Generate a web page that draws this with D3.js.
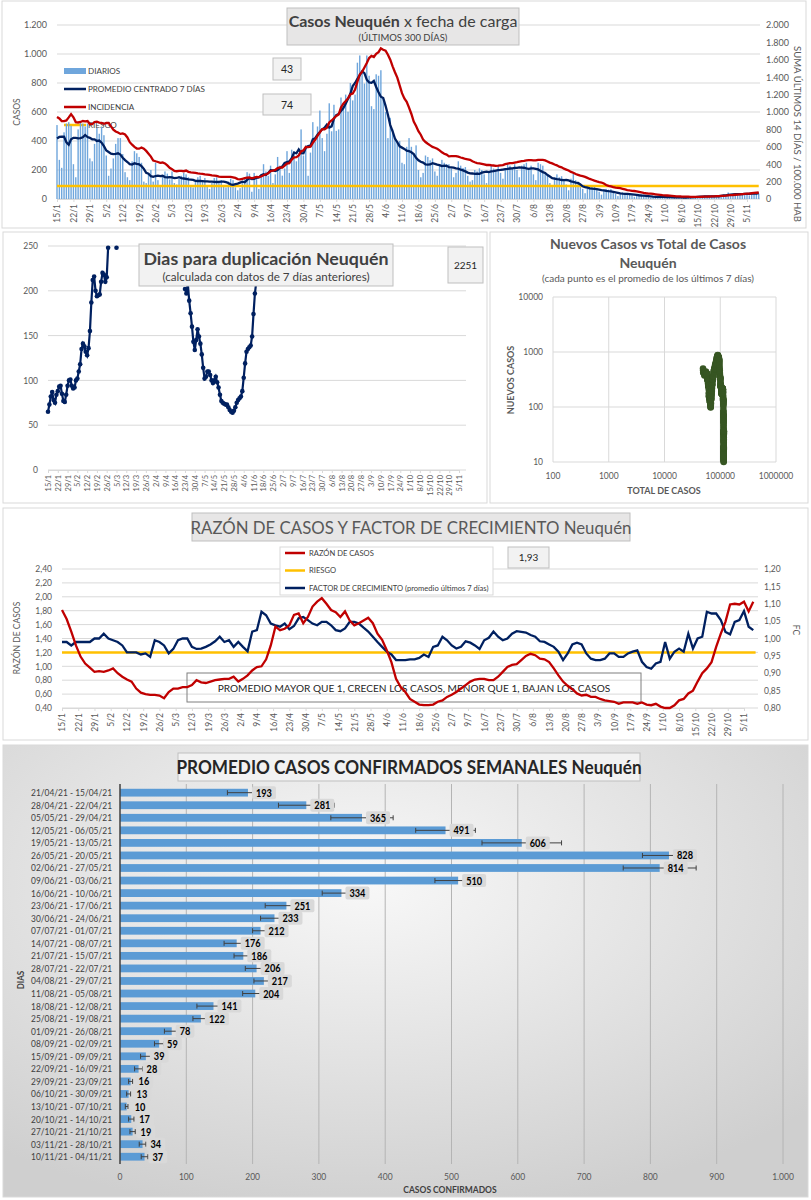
<!DOCTYPE html>
<html>
<head>
<meta charset="utf-8">
<title>Casos Neuquén</title>
<script src="https://cdnjs.cloudflare.com/ajax/libs/d3/7.8.5/d3.min.js"></script>
<style>
  body { margin: 0; background: #fff; }
  text { font-family: Lato, "Open Sans", sans-serif; }
</style>
</head>
<body>
<script>
// ---- datos ----
const inicio = new Date(2021, 0, 15);          // 15/1, primer día de los últimos 300
const poblacion = 664000;
const riesgoIncidencia = 150;
const riesgoRazon = 1.2;
const totalInicial = 48600;                    // casos acumulados al 14/1

// 13 días previos al 15/1 (entran en la suma de 14 días y el promedio)
const casosPrevios = [380, 420, 460, 470, 300, 250, 480, 520, 510, 490, 450, 520, 500];

// casos diarios x fecha de carga, 15/1 ... 10/11
const casosDiarios = [
  510, 270, 215, 460, 520, 530, 505,
  240, 150, 480, 530, 520, 500, 520,
  280, 260, 380, 490, 450, 500, 440,
  300, 160, 210, 280, 380, 420, 420,
  310, 185, 150, 130, 260, 330, 315,
  290, 250, 120, 110, 170, 200, 120,
  250, 130, 90, 150, 190, 175, 135,
  190, 110, 100, 140, 160, 180, 170,
  150, 90, 80, 120, 150, 160, 125,
  145, 95, 70, 110, 145, 150, 125,
  130, 90, 80, 120, 140, 130, 80,
  60, 75, 110, 150, 185, 175, 50,
  180, 150, 70, 160, 240, 190,
  160, 230, 110, 170, 290, 230, 161,
  210, 330, 180, 340, 330, 260, 317,
  480, 300, 370, 160, 320, 530, 395,
  500, 610, 420, 330, 450, 660, 467,
  650, 470, 480, 700, 620, 720, 602,
  800, 680, 720, 940, 990, 870, 796,
  990, 850, 640, 620, 860, 850, 888,
  700, 600, 420, 560, 480, 420, 390,
  400, 250, 240, 360, 420, 360, 308,
  370, 200, 150, 180, 300, 290, 267,
  280, 190, 160, 240, 270, 250, 241,
  240, 210, 150, 180, 260, 230, 214,
  220, 160, 120, 130, 200, 190, 212,
  200, 170, 110, 190, 230, 210, 192,
  230, 180, 140, 210, 240, 230, 212,
  240, 200, 150, 230, 240, 250, 209,
  230, 170, 130, 250, 240, 230, 178,
  160, 110, 90, 150, 170, 150, 157,
  130, 100, 60, 140, 180, 130, 114,
  100, 70, 40, 70, 90, 90, 86,
  70, 50, 30, 60, 70, 65, 68,
  50, 35, 20, 40, 45, 42, 41,
  35, 25, 15, 30, 32, 30, 29,
  20, 14, 8, 18, 18, 17, 17,
  15, 12, 8, 14, 16, 13, 13,
  12, 8, 6, 11, 12, 11, 10,
  18, 15, 10, 18, 22, 19, 17,
  22, 16, 12, 20, 24, 21, 18,
  45, 30, 22, 35, 38, 36, 32,
  40, 32, 25, 42, 45, 38, 37
];

// días para duplicación (tramos visibles, arriba de 250 no se ve)
const dupInicio = [0, 49, 98];
const dupTramos = [
  [65, 73, 82, 87, 78, 75, 84, 88, 93, 94, 85, 77, 76, 84, 94, 100, 101, 94, 91, 92, 100,
   102, 110, 118, 135, 141, 138, 132, 128, 136, 155, 187, 212, 216, 200, 194, 195, 196,
   210, 220, 218, 210, 215, 248],
  [248],
  [202, 197, 208, 189, 175, 160, 143, 134, 145, 157, 149, 141, 129, 114, 102, 104, 110,
   110, 106, 100, 97, 100, 104, 98, 92, 84, 77, 75, 74, 73, 73, 70, 67, 65, 64, 66, 70,
   75, 78, 80, 82, 88, 103, 119, 132, 135, 137, 139, 149, 174, 197, 210]
];

// razón de casos y factor de crecimiento, un valor cada 2 días desde 15/1
const razonCasos = [
  1.81, 1.68, 1.50, 1.30, 1.14, 1.04, 0.98, 0.92, 0.93, 0.92, 0.94, 0.97, 0.90, 0.85, 0.81,
  0.78, 0.68, 0.62, 0.60, 0.59, 0.59, 0.58, 0.54, 0.63, 0.68, 0.68, 0.70, 0.70, 0.73, 0.80,
  0.77, 0.76, 0.78, 0.80, 0.81, 0.82, 0.82, 0.85, 0.78, 0.82, 0.87, 0.94, 0.99, 1.00, 1.10,
  1.30, 1.57, 1.52, 1.54, 1.59, 1.74, 1.76, 1.62, 1.71, 1.86, 1.93, 1.98, 1.90, 1.81, 1.78,
  1.71, 1.79, 1.66, 1.59, 1.62, 1.66, 1.70, 1.62, 1.47, 1.38, 1.23, 1.06, 0.82, 0.70,
  0.63, 0.53, 0.49, 0.45, 0.44, 0.44, 0.45, 0.49, 0.51, 0.56, 0.59, 0.63, 0.68, 0.73, 0.78,
  0.81, 0.82, 0.82, 0.80, 0.80, 0.85, 0.92, 0.99, 1.02, 1.03, 1.09, 1.15, 1.18, 1.16, 1.11,
  1.10, 1.06, 0.97, 0.87, 0.78, 0.72, 0.67, 0.61, 0.58, 0.59, 0.56, 0.56, 0.53, 0.51, 0.50,
  0.49, 0.46, 0.48, 0.48, 0.48, 0.46, 0.48, 0.45, 0.44, 0.46, 0.42, 0.40, 0.40, 0.44, 0.51,
  0.53, 0.61, 0.65, 0.78, 0.90, 0.97, 1.06, 1.28, 1.47, 1.64, 1.89, 1.90, 1.89, 1.93, 1.79, 1.93
];
const factorCrec = [
  0.990, 0.990, 0.980, 0.990, 0.990, 0.990, 0.990, 1.000, 1.000, 1.014, 1.000, 0.995, 0.990,
  0.980, 0.960, 0.960, 0.960, 0.954, 0.957, 0.947, 0.995, 0.990, 0.980, 0.957, 0.970, 0.995,
  1.000, 1.000, 0.976, 0.970, 0.971, 0.976, 0.983, 0.992, 1.005, 0.990, 0.995, 0.976, 0.990,
  0.976, 0.963, 1.020, 1.024, 1.077, 1.067, 1.043, 1.038, 1.034, 1.043, 1.027, 1.036, 1.058,
  1.062, 1.053, 1.043, 1.038, 1.048, 1.048, 1.038, 1.024, 1.021, 1.029, 1.048, 1.048, 1.043,
  1.031, 1.020, 1.005, 0.990, 0.976, 0.962, 0.954, 0.938, 0.938,
  0.938, 0.940, 0.940, 0.944, 0.954, 0.947, 0.976, 0.980, 1.005, 0.995, 0.980, 0.971, 0.976,
  0.992, 0.988, 0.980, 0.970, 0.995, 1.002, 1.020, 1.005, 0.995, 1.000, 1.014, 1.021, 1.019,
  1.017, 1.010, 1.005, 0.992, 0.990, 0.983, 0.976, 0.962, 0.938, 0.957, 0.983, 0.988, 0.983,
  0.957, 0.942, 0.938, 0.938, 0.942, 0.957, 0.957, 0.947, 0.947, 0.957, 0.962, 0.966, 0.933,
  0.918, 0.913, 0.928, 0.933, 0.990, 0.942, 0.962, 0.971, 0.962, 1.014, 0.971, 1.000, 1.005,
  1.077, 1.072, 1.072, 1.053, 1.019, 1.012, 1.048, 1.053, 1.079, 1.034, 1.024
];

// promedio semanal de confirmados
const semanas = [
  "21/04/21 - 15/04/21", "28/04/21 - 22/04/21", "05/05/21 - 29/04/21", "12/05/21 - 06/05/21",
  "19/05/21 - 13/05/21", "26/05/21 - 20/05/21", "02/06/21 - 27/05/21", "09/06/21 - 03/06/21",
  "16/06/21 - 10/06/21", "23/06/21 - 17/06/21", "30/06/21 - 24/06/21", "07/07/21 - 01/07/21",
  "14/07/21 - 08/07/21", "21/07/21 - 15/07/21", "28/07/21 - 22/07/21", "04/08/21 - 29/07/21",
  "11/08/21 - 05/08/21", "18/08/21 - 12/08/21", "25/08/21 - 19/08/21", "01/09/21 - 26/08/21",
  "08/09/21 - 02/09/21", "15/09/21 - 09/09/21", "22/09/21 - 16/09/21", "29/09/21 - 23/09/21",
  "06/10/21 - 30/09/21", "13/10/21 - 07/10/21", "20/10/21 - 14/10/21", "27/10/21 - 21/10/21",
  "03/11/21 - 28/10/21", "10/11/21 - 04/11/21"
];
const promSemanal = [193, 281, 365, 491, 606, 828, 814, 510, 334, 251, 233, 212, 176, 186, 206,
  217, 204, 141, 122, 78, 59, 39, 28, 16, 13, 10, 17, 19, 34, 37];
const errorSemanal = [31, 42, 47, 45, 60, 40, 55, 35, 29, 32, 21, 12, 19, 14, 17,
  15, 19, 25, 12, 11, 7, 8, 6, 3, 3, 2, 4, 4, 5, 5];

// ---- derivados ----
const np = casosPrevios.length;
const todos = casosPrevios.concat(casosDiarios);
const n = casosDiarios.length;
const promCentrado = casosDiarios.map((v, i) => d3.mean(todos.slice(np + i - 3, Math.min(np + i + 4, todos.length))));
const promUltimos7 = casosDiarios.map((v, i) => d3.mean(todos.slice(np + i - 6, np + i + 1)));
const incidencia = casosDiarios.map((v, i) => d3.sum(todos.slice(np + i - 13, np + i + 1)) / poblacion * 100000);
const acumulado = Array.from(d3.cumsum(casosDiarios), v => v + totalInicial);

const es = d3.formatLocale({ decimal: ",", thousands: ".", grouping: [3], currency: ["$", ""] });
const fmtMiles = es.format(",");
const fmt2 = es.format(".2f");
const fmtFecha = d3.timeFormat("%-d/%-m");
const diasTicks = d3.range(0, 295, 7);
const etiquetasFechas = diasTicks.map(d => fmtFecha(d3.timeDay.offset(inicio, d)));

const AZUL = "#002060", ROJO = "#c00000", AMARILLO = "#ffc000", GRIS = "#595959", GRILLA = "#d9d9d9";

const svg = d3.select("body").append("svg").attr("width", 811).attr("height", 1200);
svg.append("rect").attr("width", 811).attr("height", 1200).attr("fill", "#fff");

function caja(g, x, y, w, h, fill, stroke) {
  return g.append("rect").attr("x", x).attr("y", y).attr("width", w).attr("height", h)
    .attr("fill", fill || "#f2f2f2").attr("stroke", stroke || "#bfbfbf");
}
function texto(g, x, y, t, size, opts = {}) {
  return g.append("text").attr("x", x).attr("y", y).text(t)
    .attr("font-size", size).attr("fill", opts.fill || GRIS)
    .attr("text-anchor", opts.anchor || "middle")
    .attr("font-weight", opts.bold ? "bold" : null);
}
// texto angosto (la fuente original es condensada)
function angosto(g, x, y, t, size, opts = {}) {
  return g.append("text").attr("transform", `translate(${x},${y}) scale(${opts.sx || 0.85},1)`)
    .text(t).attr("font-size", size).attr("fill", opts.fill || GRIS)
    .attr("text-anchor", opts.anchor || "middle")
    .attr("font-weight", opts.bold ? "bold" : null);
}
function ejeFechas(g, x, y0, size) {
  g.append("g").attr("transform", `translate(0,${y0})`)
    .call(d3.axisBottom(x).tickValues(diasTicks).tickFormat((d, i) => etiquetasFechas[i]).tickSize(3))
    .attr("font-family", null)
    .call(a => a.select(".domain").attr("stroke", GRILLA))
    .call(a => a.selectAll(".tick line").attr("stroke", GRILLA))
    .call(a => a.selectAll("text").attr("transform", "rotate(-90)").attr("text-anchor", "end")
      .attr("x", -5).attr("y", 0).attr("dy", "0.35em").attr("fill", GRIS).attr("font-size", size));
}
function ejeY(g, scale, xPos, vals, fmt, left, size) {
  g.append("g").attr("transform", `translate(${xPos},0)`)
    .call((left ? d3.axisLeft(scale) : d3.axisRight(scale)).tickValues(vals).tickFormat(fmt).tickSize(0).tickPadding(left ? 10 : 6))
    .attr("font-family", null)
    .call(a => a.select(".domain").remove())
    .call(a => a.selectAll("text").attr("fill", GRIS).attr("font-size", size));
}

// marcos
[[2, 1, 804, 227], [3, 232, 484, 271], [490, 232, 318, 271], [3, 508, 805, 232]].forEach(m =>
  svg.append("rect").attr("x", m[0]).attr("y", m[1]).attr("width", m[2]).attr("height", m[3])
    .attr("fill", "#fff").attr("stroke", GRILLA));

// ===================== 1. Casos x fecha de carga =====================
const g1 = svg.append("g");
const x1 = d3.scaleLinear().domain([0, 294]).range([57, 747]);
const y1 = d3.scaleLinear().domain([0, 1200]).range([199, 25]);
const y1r = d3.scaleLinear().domain([0, 2000]).range([199, 25]);

g1.append("g").selectAll("line").data(d3.range(200, 1201, 200)).join("line")
  .attr("x1", 57).attr("x2", 760).attr("y1", d => y1(d)).attr("y2", d => y1(d)).attr("stroke", GRILLA);
ejeY(g1, y1, 57, d3.range(0, 1201, 200), fmtMiles, true, 9);
ejeY(g1, y1r, 760, d3.range(0, 2001, 200), fmtMiles, false, 9);
ejeFechas(g1, x1, 199, 8.5);
g1.append("line").attr("x1", 57).attr("x2", 760).attr("y1", 199).attr("y2", 199).attr("stroke", GRILLA);

texto(g1, 0, 0, "CASOS", 8.5).attr("transform", "translate(20,112) rotate(-90)");
texto(g1, 0, 0, "SUMA  ÚLTIMOS 14 DÍAS / 100.000 HAB", 9.6).attr("transform", "translate(794,134) rotate(90)");

// leyenda (queda debajo de las series)
const ley1 = [
  { t: "DIARIOS", c: "#6fa6dc", barra: true },
  { t: "PROMEDIO CENTRADO 7 DÍAS", c: AZUL },
  { t: "INCIDENCIA", c: ROJO },
  { t: "RIESGO", c: AMARILLO }
];
ley1.forEach((l, i) => {
  const yy = 71 + i * 18;
  if (l.barra) g1.append("rect").attr("x", 64).attr("y", yy - 3).attr("width", 22).attr("height", 6).attr("fill", l.c);
  else g1.append("line").attr("x1", 64).attr("x2", 86).attr("y1", yy).attr("y2", yy).attr("stroke", l.c).attr("stroke-width", 2.5);
  texto(g1, 88, yy + 3, l.t, 8.1, { anchor: "start", fill: "#404040" });
});

g1.append("g").selectAll("rect").data(casosDiarios).join("rect")
  .attr("x", (d, i) => x1(i) - 0.7).attr("width", 1.4)
  .attr("y", d => y1(d)).attr("height", d => 199 - y1(d)).attr("fill", "#6fa6dc");

g1.append("line").attr("x1", x1(0)).attr("x2", x1(n - 1))
  .attr("y1", y1r(riesgoIncidencia)).attr("y2", y1r(riesgoIncidencia))
  .attr("stroke", AMARILLO).attr("stroke-width", 2.5);
g1.append("path").datum(promCentrado).attr("fill", "none").attr("stroke", AZUL).attr("stroke-width", 2.3)
  .attr("d", d3.line().x((d, i) => x1(i)).y(d => y1(d)));
g1.append("path").datum(incidencia).attr("fill", "none").attr("stroke", ROJO).attr("stroke-width", 2.3)
  .attr("d", d3.line().x((d, i) => x1(i)).y(d => y1r(d)));

caja(g1, 287, 8, 232, 37, "#e7e6e6");
const t1 = texto(g1, 403, 27, "", 16, { fill: "#404040" });
t1.append("tspan").attr("font-weight", "bold").text("Casos  Neuquén");
t1.append("tspan").text("  x  fecha  de  carga");
texto(g1, 403, 41, "(ÚLTIMOS 300 DÍAS)", 9.5, { fill: "#404040" });
caja(g1, 273, 58, 28, 22);
texto(g1, 287, 73, "43", 10.5, { fill: "#262626" });
caja(g1, 263, 94, 48, 21);
texto(g1, 287, 109, "74", 10.5, { fill: "#262626" });

// ===================== 2. Días para duplicación =====================
const g2 = svg.append("g");
const x2 = d3.scaleLinear().domain([0, 294]).range([48, 459]);
const y2 = d3.scaleLinear().domain([0, 250]).range([470, 246]);
g2.append("g").selectAll("line").data(d3.range(50, 251, 50)).join("line")
  .attr("x1", 48).attr("x2", 466).attr("y1", d => y2(d)).attr("y2", d => y2(d)).attr("stroke", GRILLA);
ejeY(g2, y2, 48, d3.range(0, 251, 50), d => d, true, 8.5);
ejeFechas(g2, x2, 470, 7.5);
g2.append("line").attr("x1", 48).attr("x2", 466).attr("y1", 470).attr("y2", 470).attr("stroke", GRILLA);

dupTramos.forEach((tramo, k) => {
  const pts = tramo.map((v, i) => [dupInicio[k] + i, v]);
  g2.append("path").datum(pts).attr("fill", "none").attr("stroke", AZUL).attr("stroke-width", 2.2)
    .attr("d", d3.line().x(d => x2(d[0])).y(d => y2(d[1])));
  g2.append("g").selectAll("circle").data(pts).join("circle")
    .attr("cx", d => x2(d[0])).attr("cy", d => y2(d[1])).attr("r", 2.3).attr("fill", AZUL);
});

caja(g2, 139, 244, 254, 42);
texto(g2, 266, 265, "Dias para duplicación Neuquén", 17.8, { bold: true, fill: "#404040" });
texto(g2, 266, 281, "(calculada con datos de 7 días anteriores)", 11.6, { fill: "#404040" });
caja(g2, 448, 247, 35, 36);
texto(g2, 465.5, 269, "2251", 10, { fill: "#262626" });

// ===================== 3. Nuevos vs total =====================
const g3 = svg.append("g");
const x3 = d3.scaleLog().domain([100, 1e6]).range([553, 776]);
const y3 = d3.scaleLog().domain([10, 1e4]).range([462, 297]);
const decX = [100, 1000, 10000, 100000, 1000000], decY = [10, 100, 1000, 10000];
g3.append("g").selectAll("line").data(decX).join("line")
  .attr("x1", d => x3(d)).attr("x2", d => x3(d)).attr("y1", 297).attr("y2", 462).attr("stroke", GRILLA);
g3.append("g").selectAll("line").data(decY).join("line")
  .attr("x1", 553).attr("x2", 776).attr("y1", d => y3(d)).attr("y2", d => y3(d)).attr("stroke", GRILLA);
g3.append("g").selectAll("text").data(decX).join("text")
  .attr("x", d => x3(d)).attr("y", 479).attr("text-anchor", "middle").attr("font-size", 8.5).attr("fill", GRIS).text(d => d);
g3.append("g").selectAll("text").data(decY).join("text")
  .attr("x", 543).attr("y", d => y3(d) + 3).attr("text-anchor", "end").attr("font-size", 8.5).attr("fill", GRIS).text(d => d);
svg.append("clipPath").attr("id", "clip3").append("rect").attr("x", 545).attr("y", 290).attr("width", 240).attr("height", 176);
g3.append("g").attr("clip-path", "url(#clip3)").selectAll("circle")
  .data(acumulado.map((t, i) => [t, promUltimos7[i]])).join("circle")
  .attr("cx", d => x3(d[0])).attr("cy", d => y3(Math.max(d[1], 9))).attr("r", 3.3).attr("fill", "#375623");
texto(g3, 648, 249, "Nuevos Casos vs Total de Casos", 14, { bold: true });
texto(g3, 648, 268, "Neuquén", 14, { bold: true });
texto(g3, 648, 282, "(cada punto es el promedio de los últimos 7 días)", 10, {});
texto(g3, 664, 494, "TOTAL DE CASOS", 9, { bold: true });
texto(g3, 0, 0, "NUEVOS CASOS", 9, { bold: true }).attr("transform", "translate(514,380) rotate(-90)");

// ===================== 4. Razón de casos y FC =====================
const g4 = svg.append("g");
const x4 = d3.scaleLinear().domain([0, 294]).range([62, 744]);
const y4 = d3.scaleLinear().domain([0.4, 2.4]).range([708, 569]);
const y4r = d3.scaleLinear().domain([0.8, 1.2]).range([708, 569]);
const ticksRazon = d3.range(0, 11).map(k => 0.4 + k * 0.2);
const ticksFC = d3.range(0, 9).map(k => 0.8 + k * 0.05);
g4.append("g").selectAll("line").data(ticksRazon).join("line")
  .attr("x1", 62).attr("x2", 758).attr("y1", d => y4(d)).attr("y2", d => y4(d)).attr("stroke", GRILLA);
ejeY(g4, y4, 62, ticksRazon, fmt2, true, 8.5);
ejeY(g4, y4r, 758, ticksFC, fmt2, false, 8.5);
ejeFechas(g4, x4, 708, 8.5);
texto(g4, 0, 0, "RAZÓN DE CASOS", 8.5).attr("transform", "translate(20,638) rotate(-90)");
texto(g4, 0, 0, "FC", 8.5).attr("transform", "translate(793,630) rotate(90)");

g4.append("rect").attr("x", 187).attr("y", 673).attr("width", 454).attr("height", 29)
  .attr("fill", "none").attr("stroke", "#7f7f7f");
texto(g4, 414, 692, "PROMEDIO MAYOR QUE 1, CRECEN LOS CASOS, MENOR QUE 1, BAJAN LOS CASOS", 10.1, { fill: "#262626" });

g4.append("line").attr("x1", x4(0)).attr("x2", x4(n - 1)).attr("y1", y4(riesgoRazon)).attr("y2", y4(riesgoRazon))
  .attr("stroke", AMARILLO).attr("stroke-width", 2.5);
g4.append("path").datum(factorCrec).attr("fill", "none").attr("stroke", AZUL).attr("stroke-width", 2.3)
  .attr("d", d3.line().x((d, i) => x4(i * 2)).y(d => y4r(d)));
g4.append("path").datum(razonCasos).attr("fill", "none").attr("stroke", ROJO).attr("stroke-width", 2.3)
  .attr("d", d3.line().x((d, i) => x4(i * 2)).y(d => y4(d)));

caja(g4, 192, 513, 438, 28, "#e7e6e6");
texto(g4, 411, 534, "RAZÓN DE CASOS Y FACTOR DE CRECIMIENTO Neuquén", 16.8, { fill: GRIS });
caja(g4, 280, 547, 213, 48, "#fff", GRILLA);
[["RAZÓN DE CASOS", ROJO], ["RIESGO", AMARILLO], ["FACTOR DE CRECIMIENTO (promedio últimos 7 días)", AZUL]].forEach((l, i) => {
  const yy = 553 + i * 17.5;
  g4.append("line").attr("x1", 285).attr("x2", 305).attr("y1", yy).attr("y2", yy).attr("stroke", l[1]).attr("stroke-width", 2.5);
  texto(g4, 309, yy + 2.5, l[0], 7.6, { anchor: "start", fill: "#404040" });
});
caja(g4, 508, 547, 41, 21);
texto(g4, 528.5, 561, "1,93", 10, { fill: "#262626" });

// ===================== 5. Promedio semanal =====================
const g5 = svg.append("g");
const grad = svg.append("defs").append("radialGradient").attr("id", "fondo5")
  .attr("cx", "45%").attr("cy", "30%").attr("r", "75%");
grad.append("stop").attr("offset", "0%").attr("stop-color", "#f8f8f8");
grad.append("stop").attr("offset", "100%").attr("stop-color", "#cfcfcf");
g5.append("rect").attr("x", 3).attr("y", 745).attr("width", 805).attr("height", 452)
  .attr("fill", "url(#fondo5)").attr("stroke", GRILLA);

const x5 = d3.scaleLinear().domain([0, 1000]).range([120, 783]);
const y5 = d3.scaleBand().domain(semanas).range([786.4, 1163]).paddingInner(0.38).paddingOuter(0.19);
g5.append("g").selectAll("line").data(d3.range(100, 1001, 100)).join("line")
  .attr("x1", d => x5(d)).attr("x2", d => x5(d)).attr("y1", 784).attr("y2", 1164).attr("stroke", "#b4b4b4");
g5.append("g").selectAll("rect").data(promSemanal).join("rect")
  .attr("x", x5(0)).attr("y", (d, i) => y5(semanas[i])).attr("height", y5.bandwidth())
  .attr("width", d => x5(d) - x5(0)).attr("fill", "#5b9bd5");
// barras de error
const eb = g5.append("g").attr("stroke", "#404040").attr("stroke-width", 1);
promSemanal.forEach((v, i) => {
  const cy = y5(semanas[i]) + y5.bandwidth() / 2;
  const a = x5(v - errorSemanal[i]), b = x5(v + errorSemanal[i]);
  eb.append("line").attr("x1", a).attr("x2", b).attr("y1", cy).attr("y2", cy);
  eb.append("line").attr("x1", a).attr("x2", a).attr("y1", cy - 2.5).attr("y2", cy + 2.5);
  eb.append("line").attr("x1", b).attr("x2", b).attr("y1", cy - 2.5).attr("y2", cy + 2.5);
});
// etiquetas de valor
promSemanal.forEach((v, i) => {
  const cy = y5(semanas[i]) + y5.bandwidth() / 2;
  const gx = g5.append("g");
  const r = gx.append("rect").attr("rx", 2).attr("fill", "#d9d9d9");
  const t = angosto(gx, x5(v) + 8, cy + 4, v, 11.5, { bold: true, fill: "#000", anchor: "start", sx: 0.8 });
  const w = t.node().getComputedTextLength() * 0.8;
  r.attr("x", x5(v) + 4).attr("y", cy - 6.5).attr("width", w + 8).attr("height", 13);
});
g5.append("line").attr("x1", x5(0)).attr("x2", x5(0)).attr("y1", 784).attr("y2", 1164).attr("stroke", "#404040").attr("stroke-width", 1.5);
semanas.forEach(s => angosto(g5, 112, y5(s) + y5.bandwidth() / 2 + 3.5, s, 10, { anchor: "end", fill: "#404040", sx: 0.84 }));
d3.range(0, 1001, 100).forEach(d => angosto(g5, x5(d), 1180, fmtMiles(d), 10, { fill: GRIS }));
angosto(g5, 450, 1193, "CASOS CONFIRMADOS", 10, { bold: true, fill: "#404040" });
angosto(g5, 24, 980, "DIAS", 9.5, { bold: true, fill: "#404040" }).attr("transform", "translate(24,980) rotate(-90) scale(0.85,1)");
caja(g5, 178, 753, 462, 28, "#f2f2f2", "#bfbfbf");
angosto(g5, 409, 774, "PROMEDIO CASOS CONFIRMADOS SEMANALES Neuquén", 19.5, { bold: true, fill: "#262626", sx: 0.88 });
</script>
</body>
</html>
